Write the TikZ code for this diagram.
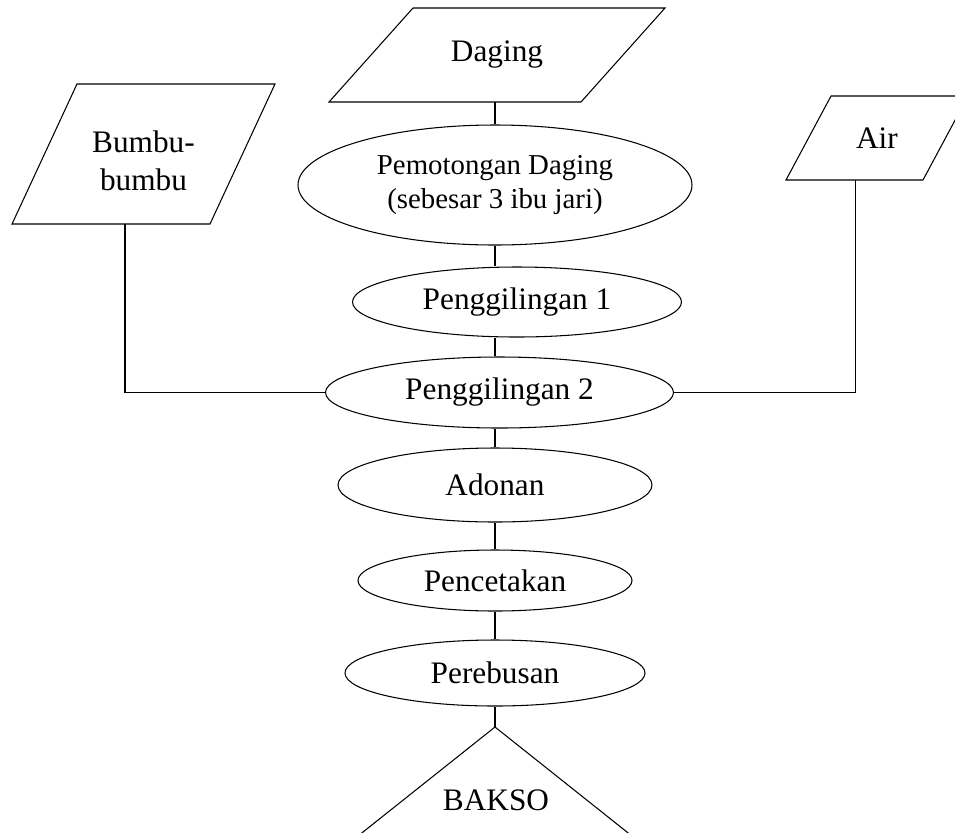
\documentclass[tikz,border=0pt]{standalone}
\usepackage{fontspec}
\setmainfont{Liberation Serif}
\usetikzlibrary{positioning}
\usetikzlibrary{shapes.geometric}
\usetikzlibrary{calc}
\tikzset{
    proses/.style={draw, ellipse, inner sep=0pt, align=center, font=\fontsize{17.8}{21.5}\selectfont},
    bahan/.style={inner sep=0pt, outer sep=0pt, align=center, font=\fontsize{17.8}{21.5}\selectfont},
}
% jajaran genjang di sekeliling node #1, geser sudut #2
\newcommand{\jajar}[2]{\draw ([xshift=#2]#1.north west) -- (#1.north east) -- ([xshift=-#2]#1.south east) -- (#1.south west) -- cycle;}

\begin{document}
\begin{tikzpicture}[line width=0.6pt]
        \useasboundingbox (0,0) rectangle (191mm,-166.4mm);
        \clip (0,0) rectangle (191mm,-166.4mm);
        % bahan masuk
        \node [bahan, minimum width=67.2mm, minimum height=18.8mm] (daging) at (99.4mm,-11mm) {Daging};
        \node [bahan, minimum width=52.6mm, minimum height=28mm] (bumbu) at (28.7mm,-30.8mm) {\rule{0pt}{7.1mm}Bumbu-\\bumbu};
        \node [bahan, minimum width=36.4mm, minimum height=16.8mm] (air) at (175.4mm,-27.6mm) {Air};
        \jajar{daging}{16.8mm}
        \jajar{bumbu}{13mm}
        \jajar{air}{9mm}
        % proses
        \node [proses, minimum width=78.8mm, minimum height=24mm, font=\fontsize{16.4}{18.8}\selectfont]
            (potong) at (99mm,-37mm) {Pemotongan Daging\\(sebesar 3 ibu jari)};
        \node [proses, minimum width=65.8mm, minimum height=14mm] (giling1) at (103.4mm,-60.4mm) {Penggilingan 1};
        \node [proses, minimum width=69.6mm, minimum height=14.2mm] (giling2) at (99.9mm,-78.5mm) {Penggilingan 2};
        \node [proses, minimum width=62.8mm, minimum height=14.8mm] (adonan) at (99mm,-97mm) {Adonan};
        \node [proses, minimum width=54.8mm, minimum height=12.2mm] (cetak) at (99mm,-116.1mm) {Pencetakan};
        \node [proses, minimum width=60mm, minimum height=13.2mm] (rebus) at (99mm,-134.6mm) {Perebusan};
        \coordinate (apex) at (99mm,-145.4mm);
        % hasil
        \draw ($(apex)+(-37.2mm,-29.6mm)$) -- (apex) -- ($(apex)+(37.2mm,-29.6mm)$);
        \node [font=\fontsize{17.8}{21.5}\selectfont] (bakso) at ($(apex)+(0.2mm,-14.6mm)$) {BAKSO};
        % garis
        \coordinate (bumbuout) at ($(bumbu.south)+(-3.7mm,0)$);
        \coordinate (airout) at ($(air.south)+(-4.3mm,0)$);
        \draw (potong.north) -- (potong.north |- daging.south);
        \draw (potong.south) -- (potong.south |- giling1.north);
        \draw (giling1.south -| potong.south) -- (potong.south |- giling2.north);
        \draw (giling2.south -| potong.south) -- (potong.south |- adonan.north);
        \draw (adonan.south) -- (cetak.north);
        \draw (cetak.south) -- (rebus.north);
        \draw (rebus.south) -- (apex);
        \draw (bumbuout) |- (giling2.west);
        \draw (airout) |- (giling2.east);
    \end{tikzpicture}
\end{document}
